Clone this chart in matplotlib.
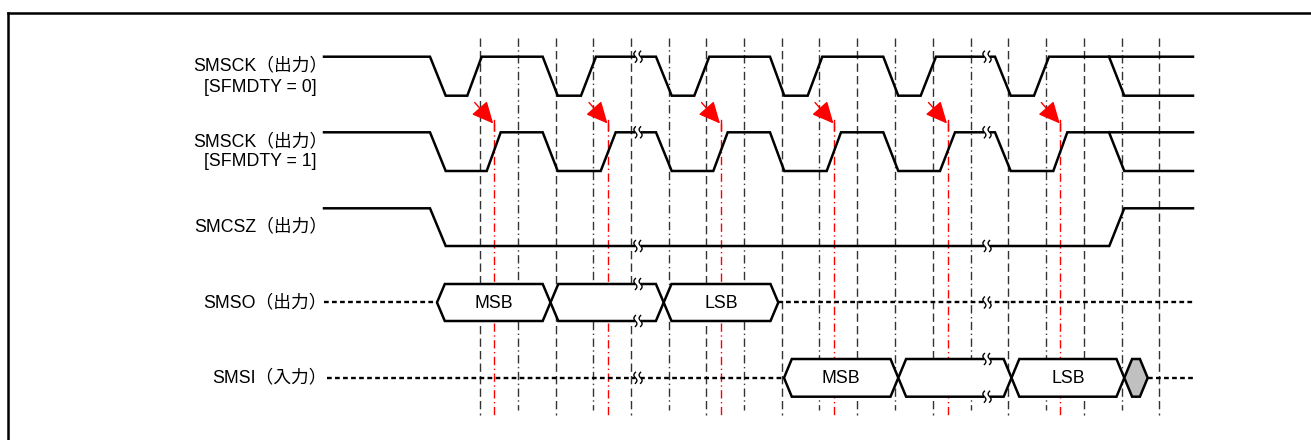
import matplotlib
matplotlib.use("Agg")
import matplotlib.pyplot as plt
import numpy as np
from matplotlib.patches import Polygon, FancyArrowPatch, Rectangle

# ---------------- data (pixel-like diagram coordinates) ----------------
grid_x = [480, 518, 556, 593, 631, 669, 706, 744, 782, 819, 857, 895, 933,
          971, 1008, 1046, 1084, 1122, 1159]
grid_kind = ["dash", "dashdot"] * 9 + ["dash"]
red_x = [493.7, 608, 720.5, 834, 947.5, 1060.3]

clk0_x = [324, 430, 445.7, 467.3, 481.7, 542.7, 557.7, 581, 596, 656, 671.7,
          694.3, 709.3, 770, 784.3, 807.7, 822.3, 883.3, 898.3, 920.7, 936,
          995, 1010.7, 1034, 1049, 1193]
clk1_x = [324, 430, 445.7, 486.7, 500.7, 542.7, 557.7, 600.7, 615.7, 656, 671.7,
          713.3, 727.7, 770, 784.3, 826.7, 841, 883.3, 898.3, 940, 955,
          995, 1010.7, 1053.3, 1067.3, 1193]
clk_level = [1, 1, 0, 0] * 6 + [1, 1]
clk_tail_x = [1109, 1124.3, 1193]
clk_tail_level = [1, 0, 0]

cs_x = [324, 430, 445.7, 1109.3, 1124.3, 1193]
cs_level = [1, 1, 0, 0, 1, 1]

so_edges = [437, 550.5, 663.7, 778.3]
so_labels = ["MSB", "", "LSB"]
si_edges = [784, 898.3, 1011.5, 1124.3, 1147.7]
si_labels = ["MSB", "", "LSB", "#"]

labels = [("SMSCK（出力）", 66), ("[SFMDTY = 0]", 87),
          ("SMSCK（出力）", 142), ("[SFMDTY = 1]", 162),
          ("SMCSZ（出力）", 227), ("SMSO（出力）", 302.5), ("SMSI（入力）", 378)]

# ---------------- drawing ----------------
W, H = 1311, 440
fig = plt.figure(figsize=(13.11, 4.4), dpi=100)
ax = fig.add_axes([0, 0, 1, 1])
ax.set_xlim(0, W)
ax.set_ylim(H, 0)
ax.axis("off")
FONT = ["Liberation Sans", "Noto Sans CJK JP", "DejaVu Sans"]
FS = 12.8
LW = 1.8

# frame
ax.plot([7.5, W], [13.5, 13.5], color="black", lw=1.8, solid_capstyle="projecting")
ax.plot([7.5, 7.5], [13.5, H], color="black", lw=1.8, solid_capstyle="projecting")

# guide lines
for x, k in zip(grid_x, grid_kind):
    if k == "dash":
        ax.plot([x, x], [38, 415], color="#333333", lw=1.0, ls=(0, (6, 3)), zorder=1)
    else:
        ax.plot([x, x], [38, 410], color="#333333", lw=1.0, ls=(0, (6, 2.5, 1, 2.5)), zorder=1)
for x in red_x:
    ax.plot([x, x], [123, 415], color="red", lw=1.0, ls=(0, (6, 2.5, 1, 2.5)), zorder=1)
    ax.plot([x, x], [120, 130], color="red", lw=1.0, zorder=1)
    ax.add_patch(FancyArrowPatch((x - 19, 102.5), (x - 0.5, 123.5),
                                 arrowstyle="-|>,head_length=0.95,head_width=0.45",
                                 mutation_scale=14, color="red", lw=1.0,
                                 shrinkA=0, shrinkB=0, zorder=3))


def wave(xs, lev, hi, lo):
    ys = [hi if v else lo for v in lev]
    ax.plot(xs, ys, color="black", lw=LW, solid_joinstyle="miter", zorder=4)


wave(clk0_x, clk_level, 56.7, 95.7)
wave(clk_tail_x, clk_tail_level, 56.7, 95.7)
wave(clk1_x, clk_level, 132.3, 171)
wave(clk_tail_x, clk_tail_level, 132.3, 171)
wave(cs_x, cs_level, 208.3, 246)


def bus(edges, labs, top, bot, w=7.8):
    mid = (top + bot) / 2
    for a, b, lab in zip(edges[:-1], edges[1:], labs):
        pts = [(a, mid), (a + w, top), (b - w, top), (b, mid), (b - w, bot), (a + w, bot)]
        fc = "#c0c0c0" if lab == "#" else "white"
        ax.add_patch(Polygon(pts, closed=True, facecolor=fc, edgecolor="black",
                             lw=LW, joinstyle="miter", zorder=4))
        if lab and lab != "#":
            ax.text((a + b) / 2, mid + 0.5, lab, ha="center", va="center",
                    fontsize=FS, family=FONT, zorder=6)


def dotted(x0, x1, y):
    ax.plot([x0, x1], [y, y], color="black", lw=1.7, ls=(0, (2, 1.4)), zorder=4)


dotted(324, 437, 302.5)
dotted(778.3, 1193, 302.5)
bus(so_edges, so_labels, 284, 321)
dotted(326.7, 784, 377.8)
dotted(1147.7, 1193, 377.8)
bus(si_edges, si_labels, 359, 396.7)


def brk(x, y):
    ax.add_patch(Rectangle((x - 3, y - 2), 6, 4, facecolor="white", edgecolor="none", zorder=5))
    t = np.linspace(-1, 1, 30)
    for dx in (-2.6, 2.6):
        ax.plot(x + dx + 1.5 * np.sin(np.pi * t), y + 5.5 * t, color="black", lw=1.0, zorder=6)


for y in (56.7, 132.3, 246, 284, 321, 377.8):
    brk(638, y)
for y in (56.7, 132.3, 246, 302.5, 359, 396.7):
    brk(987, y)

for txt, y in labels:
    xr = 327 if txt.endswith("）") else 317
    ax.text(xr, y, txt, ha="right", va="center", fontsize=FS, family=FONT)

fig.savefig("out.png", dpi=100)
